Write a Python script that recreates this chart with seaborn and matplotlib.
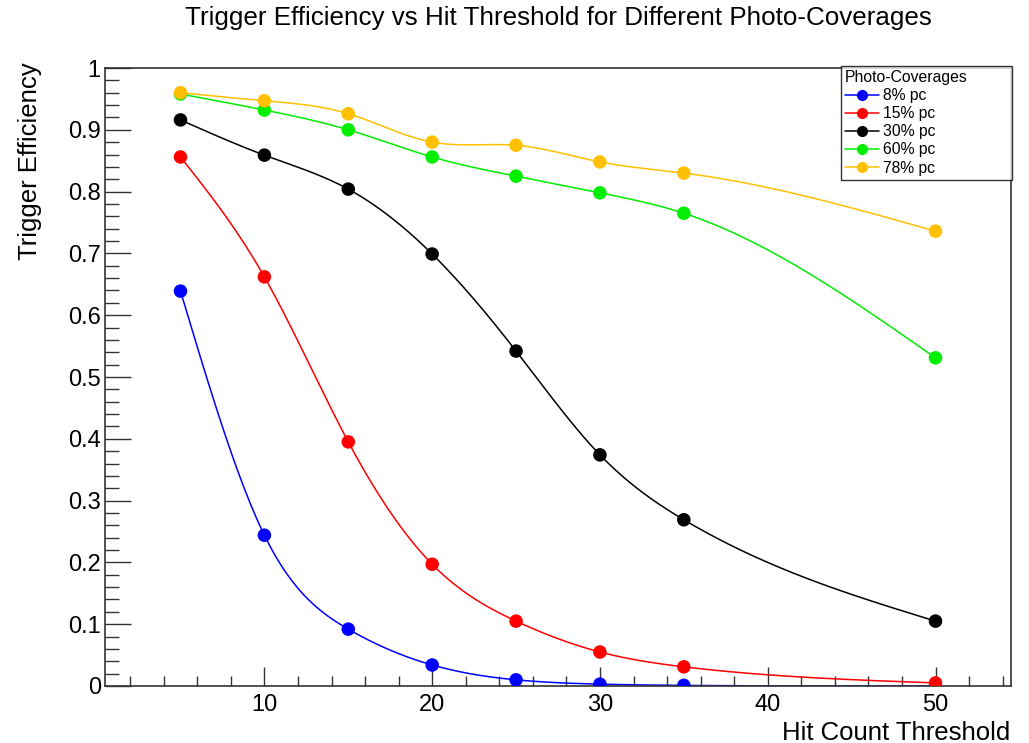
import numpy as np
import pandas as pd
import matplotlib
matplotlib.use("Agg")
import matplotlib.pyplot as plt
from matplotlib.lines import Line2D
from matplotlib.ticker import MultipleLocator
import seaborn as sns

# ---------------- data ----------------
thresholds = [5, 10, 15, 20, 25, 30, 35, 50]
eff_8 = [0.639, 0.244, 0.092, 0.034, 0.010, 0.003, 0.001, 0.000]
eff_15 = [0.856, 0.662, 0.395, 0.197, 0.105, 0.055, 0.031, 0.005]
eff_30 = [0.916, 0.859, 0.804, 0.699, 0.542, 0.374, 0.269, 0.105]
eff_60 = [0.958, 0.932, 0.900, 0.856, 0.825, 0.798, 0.765, 0.531]
eff_78 = [0.960, 0.947, 0.926, 0.880, 0.875, 0.848, 0.830, 0.736]
series_labels = ["8% pc", "15% pc", "30% pc", "60% pc", "78% pc"]
series_colors = ["#0000ff", "#ff0000", "#000000", "#00ee00", "#ffc000"]

title = "Trigger Efficiency vs Hit Threshold for Different Photo-Coverages"
xlabel = "Hit Count Threshold"
ylabel = "Trigger Efficiency"
legend_title = "Photo-Coverages"


def natural_spline(x, y, xs):
    x = np.asarray(x, float)
    y = np.asarray(y, float)
    n = len(x)
    h = np.diff(x)
    A = np.zeros((n, n))
    b = np.zeros(n)
    A[0, 0] = 1
    A[-1, -1] = 1
    for i in range(1, n - 1):
        A[i, i - 1] = h[i - 1]
        A[i, i] = 2 * (h[i - 1] + h[i])
        A[i, i + 1] = h[i]
        b[i] = 3 * ((y[i + 1] - y[i]) / h[i] - (y[i] - y[i - 1]) / h[i - 1])
    c = np.linalg.solve(A, b)
    out = np.empty_like(xs)
    for k, xv in enumerate(xs):
        i = min(max(np.searchsorted(x, xv) - 1, 0), n - 2)
        dx = xv - x[i]
        bi = (y[i + 1] - y[i]) / h[i] - h[i] * (2 * c[i] + c[i + 1]) / 3
        di = (c[i + 1] - c[i]) / (3 * h[i])
        out[k] = y[i] + bi * dx + c[i] * dx ** 2 + di * dx ** 3
    return out


all_series = [eff_8, eff_15, eff_30, eff_60, eff_78]
pts = pd.DataFrame({
    "x": np.tile(thresholds, len(all_series)),
    "y": np.concatenate(all_series),
    "s": np.repeat(series_labels, len(thresholds)),
})
xs = np.linspace(thresholds[0], thresholds[-1], 400)
curves = pd.DataFrame({
    "x": np.tile(xs, len(all_series)),
    "y": np.concatenate([np.clip(natural_spline(thresholds, s, xs), 0, None) for s in all_series]),
    "s": np.repeat(series_labels, len(xs)),
})

# ---------------- figure ----------------
sns.set_style("white")
plt.rcParams["font.family"] = ["Liberation Sans", "DejaVu Sans"]
plt.rcParams["text.color"] = "black"
plt.rcParams["xtick.color"] = "#333333"
plt.rcParams["ytick.color"] = "#333333"
plt.rcParams["xtick.labelcolor"] = "black"
plt.rcParams["ytick.labelcolor"] = "black"

fig = plt.figure(figsize=(10.29, 7.43), dpi=100)
W, H = 1029, 743
ax = fig.add_axes([105 / W, 1 - 686 / H, (1011 - 105) / W, (686 - 68) / H])

palette = dict(zip(series_labels, series_colors))
sns.lineplot(data=curves, x="x", y="y", hue="s", palette=palette, ax=ax,
             linewidth=1.1, legend=False, sort=False, estimator=None)
sns.scatterplot(data=pts, x="x", y="y", hue="s", palette=palette, ax=ax,
                s=95, edgecolor="none", legend=False, zorder=5)

ax.set_xlim(0.5, 54.5)
ax.set_ylim(0, 1)
ax.xaxis.set_major_locator(MultipleLocator(10))
ax.xaxis.set_minor_locator(MultipleLocator(2))
ax.yaxis.set_major_locator(MultipleLocator(0.1))
ax.yaxis.set_minor_locator(MultipleLocator(0.02))
ax.yaxis.set_major_formatter(matplotlib.ticker.FuncFormatter(lambda v, p: f"{v:g}"))

ax.tick_params(axis="x", which="major", direction="in", length=14, width=1, labelsize=17, pad=6,
               bottom=True, top=False)
ax.tick_params(axis="x", which="minor", direction="in", length=7.5, width=1, bottom=True, top=False)
ax.tick_params(axis="y", which="major", direction="in", length=19, width=1, labelsize=17, pad=3,
               left=True, right=False)
ax.tick_params(axis="y", which="minor", direction="in", length=10, width=1, left=True, right=False)
for sp in ax.spines.values():
    sp.set_visible(True)
    sp.set_color("#333333")
    sp.set_linewidth(1.2)

ax.set_xlabel("")
ax.set_ylabel("")
fig.text(1010 / W, 1 - 740 / H, xlabel, ha="right", va="baseline", fontsize=18.5)
fig.text(30 / W, 1 - 62 / H, ylabel, ha="center", va="top", rotation=90, fontsize=18.5)
fig.text(558 / W, 1 - 25 / H, title, ha="center", va="baseline", fontsize=18.7)

handles = [Line2D([0], [0], color=c, marker="o", markersize=8, linewidth=1.1, markeredgewidth=0)
           for c in series_colors]
leg = ax.legend(handles, series_labels, title=legend_title, loc="upper left",
                bbox_to_anchor=(841 / W, 1 - 184 / H, 171 / W, 118 / H), bbox_transform=fig.transFigure,
                mode="expand",
                fontsize=11.3, title_fontsize=11.3, frameon=True, fancybox=False,
                borderaxespad=0, borderpad=0.25, labelspacing=0.2, handlelength=2.2,
                handletextpad=0.2, alignment="left")
leg.get_frame().set_edgecolor("black")
leg.get_frame().set_linewidth(1.0)
leg.set_zorder(10)

fig.savefig("out.png", dpi=100)
